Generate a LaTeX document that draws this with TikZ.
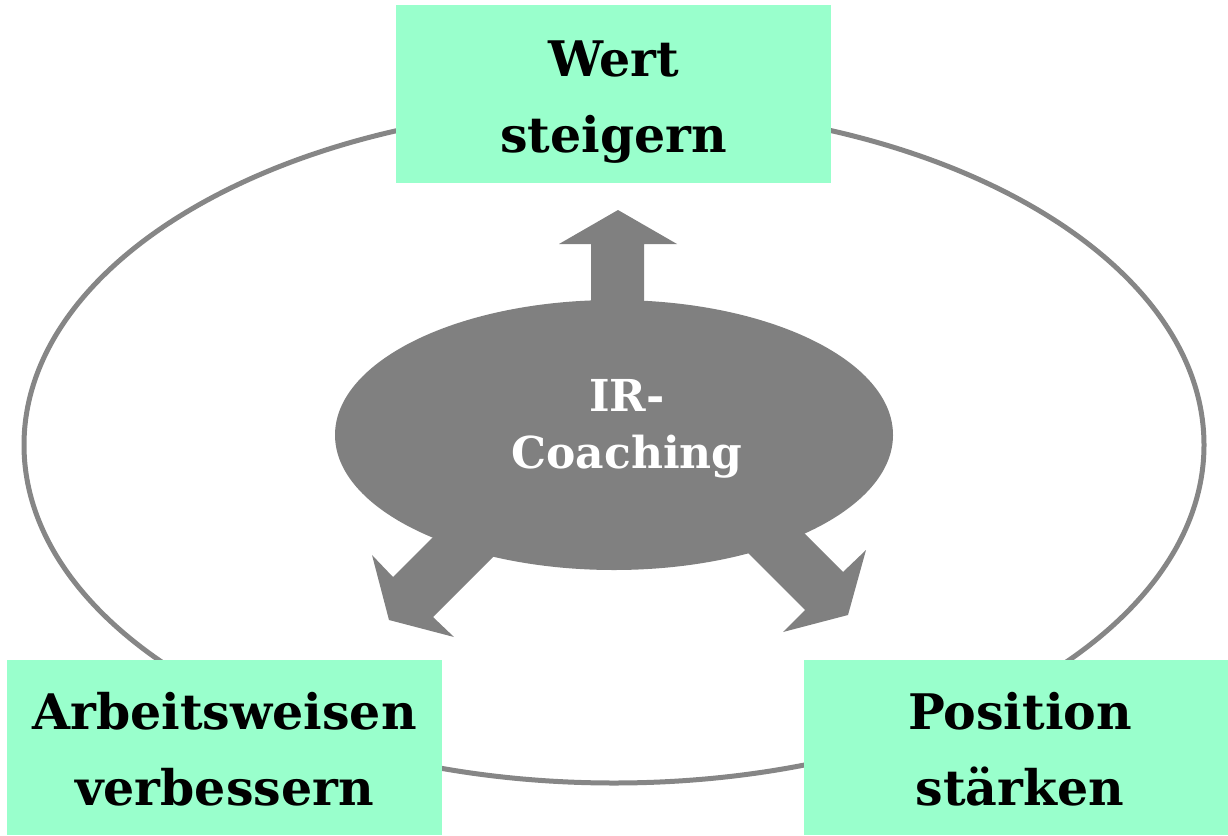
\documentclass[tikz,border=0pt]{standalone}
\usepackage{fontspec}
\setmainfont{DejaVu Serif}
\usetikzlibrary{shapes.geometric}

\definecolor{mint}{HTML}{99FFCC}
\definecolor{hub}{HTML}{808080}
\definecolor{ring}{HTML}{868686}

\begin{document}
\begin{tikzpicture}[x=1pt,y=-1pt,
  goalbox/.style={rectangle, fill=mint, draw=none, inner sep=0pt},
  goaltext/.style={anchor=base, inner sep=0pt, text=black,
    font=\fontsize{49}{76}\selectfont\bfseries},
  hubtext/.style={anchor=base, inner sep=0pt, text=white,
    font=\fontsize{44}{57}\selectfont\bfseries},
  blockarrow/.style={fill=hub, draw=none}]

\useasboundingbox (0,0) rectangle (1228,835);

% outer cycle
\draw[ring, line width=5pt] (614,445) ellipse [x radius=590pt, y radius=338pt];

% central hub
\node[ellipse, fill=hub, draw=none, inner sep=0pt,
      minimum width=558pt, minimum height=270pt] (hub) at (614,435) {};

% block arrows leaving the hub
\fill[blockarrow] (591,330) -- (591,244) -- (559,244) -- (618,210)
  -- (677,244) -- (644,244) -- (644,330) -- cycle;
\fill[blockarrow] (473,497) -- (393,577) -- (372,555) -- (389,620)
  -- (454,637) -- (433,617) -- (513,537) -- cycle;
\fill[blockarrow] (763,492) -- (843,572) -- (866,550) -- (848,615)
  -- (783,632) -- (805,610) -- (725,530) -- cycle;

\node[hubtext] (hublabel) at (627,411)
  {\begin{tabular}[t]{@{}c@{}}IR-\\Coaching\end{tabular}};

% goal boxes
\node[goalbox, minimum width=435pt, minimum height=178pt] (wert) at (613.5,94) {};
\node[goalbox, minimum width=435pt, minimum height=175pt] (arbeit) at (224.5,747.5) {};
\node[goalbox, minimum width=424pt, minimum height=175pt] (position) at (1016,747.5) {};

\node[goaltext] (werttext) at (wert.center |- 0,76)
  {\begin{tabular}[t]{@{}c@{}}Wert\\steigern\end{tabular}};
\node[goaltext] (arbeittext) at (arbeit.center |- 0,729)
  {\begin{tabular}[t]{@{}c@{}}Arbeitsweisen\\verbessern\end{tabular}};
\node[goaltext] (positiontext) at (1020,729)
  {\begin{tabular}[t]{@{}c@{}}Position\\stärken\end{tabular}};

\end{tikzpicture}
\end{document}
